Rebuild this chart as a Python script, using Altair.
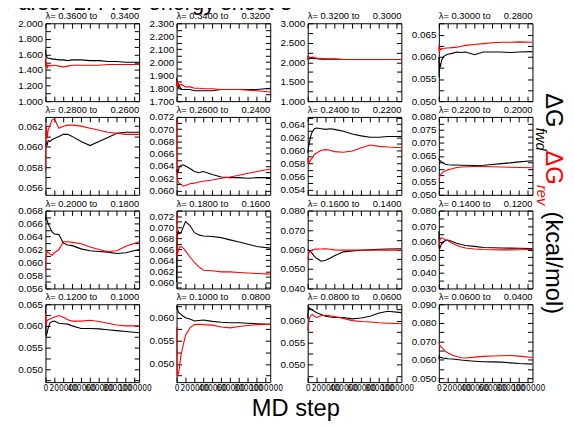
import math
import altair as alt
import pandas as pd

FONT = "Liberation Sans"
NARROW = "'Liberation Sans Narrow', 'DejaVu Sans Condensed', 'Liberation Sans', sans-serif"

# ---------------- data ----------------
steps = [0, 5000, 10000, 20000, 30000, 50000, 75000, 100000, 150000, 200000,
         250000, 300000, 400000, 500000, 600000, 700000, 800000, 900000, 1050000]

lam_from = ["0.3600", "0.3400", "0.3200", "0.3000", "0.2800", "0.2600", "0.2400", "0.2200",
            "0.2000", "0.1800", "0.1600", "0.1400", "0.1200", "0.1000", "0.0800", "0.0600"]
lam_to = ["0.3400", "0.3200", "0.3000", "0.2800", "0.2600", "0.2400", "0.2200", "0.2000",
          "0.1800", "0.1600", "0.1400", "0.1200", "0.1000", "0.0800", "0.0600", "0.0400"]

fwd_01 = [1.66, 1.60, 1.58, 1.56, 1.55, 1.55, 1.54, 1.54, 1.53, 1.53, 1.52, 1.53, 1.53, 1.52, 1.52, 1.51, 1.51, 1.50, 1.50]
rev_01 = [1.55, 1.44, 1.50, 1.42, 1.46, 1.45, 1.46, 1.46, 1.45, 1.44, 1.45, 1.46, 1.46, 1.46, 1.46, 1.47, 1.47, 1.47, 1.47]
fwd_02 = [1.88, 1.82, 1.85, 1.80, 1.82, 1.79, 1.79, 1.79, 1.79, 1.78, 1.78, 1.78, 1.78, 1.79, 1.79, 1.79, 1.79, 1.79, 1.80]
rev_02 = [1.82, 1.86, 1.80, 1.84, 1.82, 1.83, 1.82, 1.81, 1.81, 1.80, 1.80, 1.795, 1.795, 1.79, 1.79, 1.79, 1.785, 1.78, 1.77]
fwd_03 = [2.15, 2.10, 2.08, 2.10, 2.09, 2.10, 2.09, 2.09, 2.08, 2.08, 2.08, 2.08, 2.07, 2.07, 2.07, 2.07, 2.07, 2.07, 2.07]
rev_03 = [2.05, 2.12, 2.10, 2.13, 2.12, 2.13, 2.12, 2.11, 2.10, 2.09, 2.08, 2.08, 2.07, 2.07, 2.07, 2.07, 2.07, 2.07, 2.07]
fwd_04 = [0.0600, 0.0553, 0.0585, 0.0580, 0.0592, 0.0600, 0.0604, 0.0606, 0.0608, 0.0611, 0.0610, 0.0611, 0.0605, 0.0611, 0.0611, 0.0611, 0.0610, 0.0611, 0.0612]
rev_04 = [0.0625, 0.0610, 0.0620, 0.0616, 0.0619, 0.0618, 0.0620, 0.0620, 0.0621, 0.0622, 0.0624, 0.0626, 0.0628, 0.0630, 0.0632, 0.0633, 0.0633, 0.0634, 0.0633]
fwd_05 = [0.0603, 0.0600, 0.0604, 0.0602, 0.0606, 0.0605, 0.0607, 0.0608, 0.0610, 0.0612, 0.0612, 0.0610, 0.0605, 0.0601, 0.0605, 0.0609, 0.0613, 0.0614, 0.0614]
rev_05 = [0.0576, 0.0612, 0.0620, 0.0608, 0.0616, 0.0621, 0.0626, 0.0627, 0.0618, 0.0620, 0.0621, 0.0621, 0.0620, 0.0618, 0.0616, 0.0614, 0.0613, 0.0612, 0.0612]
fwd_06 = [0.0630, 0.0635, 0.0628, 0.0633, 0.0638, 0.0641, 0.0642, 0.0640, 0.0636, 0.0631, 0.0629, 0.0631, 0.0626, 0.0622, 0.0621, 0.0621, 0.0620, 0.0621, 0.0621]
rev_06 = [0.0715, 0.0625, 0.0618, 0.0613, 0.0612, 0.0610, 0.0607, 0.0608, 0.0611, 0.0612, 0.0614, 0.0615, 0.0617, 0.0620, 0.0622, 0.0625, 0.0628, 0.0631, 0.0635]
fwd_07 = [0.0596, 0.0600, 0.0605, 0.0612, 0.0620, 0.0628, 0.0633, 0.0634, 0.0633, 0.0632, 0.0633, 0.0632, 0.0629, 0.0625, 0.0622, 0.0620, 0.0620, 0.0621, 0.0621]
rev_07 = [0.0589, 0.0580, 0.0584, 0.0582, 0.0585, 0.0588, 0.0594, 0.0596, 0.0600, 0.0601, 0.0600, 0.0598, 0.0597, 0.0599, 0.0604, 0.0608, 0.0606, 0.0605, 0.0604]
fwd_08 = [0.0640, 0.0635, 0.0632, 0.0630, 0.0627, 0.0622, 0.0618, 0.0616, 0.0615, 0.0615, 0.0614, 0.0614, 0.0613, 0.0614, 0.0617, 0.0620, 0.0623, 0.0627, 0.0631]
rev_08 = [0.0565, 0.0560, 0.0572, 0.0578, 0.0582, 0.0588, 0.0593, 0.0596, 0.0600, 0.0605, 0.0607, 0.0608, 0.0609, 0.0609, 0.0608, 0.0607, 0.0606, 0.0605, 0.0604]
fwd_09 = [0.0665, 0.0672, 0.0668, 0.0664, 0.0660, 0.0654, 0.0647, 0.0644, 0.0643, 0.0630, 0.0627, 0.0626, 0.0621, 0.0618, 0.0617, 0.0616, 0.0614, 0.0615, 0.0620]
rev_09 = [0.0588, 0.0605, 0.0611, 0.0618, 0.0616, 0.0613, 0.0611, 0.0615, 0.0620, 0.0632, 0.0632, 0.0631, 0.0629, 0.0624, 0.0620, 0.0617, 0.0618, 0.0625, 0.0632]
fwd_10 = [0.0600, 0.0690, 0.0685, 0.0692, 0.0688, 0.0690, 0.0700, 0.0710, 0.0703, 0.0690, 0.0686, 0.0684, 0.0683, 0.0681, 0.0677, 0.0673, 0.0669, 0.0665, 0.0662]
rev_10 = [0.0725, 0.0645, 0.0650, 0.0658, 0.0664, 0.0665, 0.0662, 0.0657, 0.0646, 0.0636, 0.0628, 0.0622, 0.0621, 0.0619, 0.0619, 0.0618, 0.0617, 0.0616, 0.0615]
fwd_11 = [0.0601, 0.0600, 0.0598, 0.0594, 0.0590, 0.0580, 0.0565, 0.0555, 0.0540, 0.0545, 0.0555, 0.0568, 0.0588, 0.0593, 0.0596, 0.0598, 0.0601, 0.0603, 0.0604]
rev_11 = [0.0550, 0.0562, 0.0575, 0.0590, 0.0595, 0.0598, 0.0601, 0.0602, 0.0603, 0.0604, 0.0601, 0.0598, 0.0597, 0.0597, 0.0597, 0.0597, 0.0597, 0.0597, 0.0597]
fwd_12 = [0.0668, 0.0560, 0.0555, 0.0570, 0.0585, 0.0600, 0.0608, 0.0611, 0.0601, 0.0590, 0.0582, 0.0576, 0.0570, 0.0563, 0.0561, 0.0560, 0.0559, 0.0558, 0.0557]
rev_12 = [0.0572, 0.0590, 0.0608, 0.0622, 0.0626, 0.0620, 0.0613, 0.0608, 0.0590, 0.0578, 0.0566, 0.0560, 0.0553, 0.0550, 0.0549, 0.0548, 0.0548, 0.0549, 0.0550]
fwd_13 = [0.0636, 0.0582, 0.0578, 0.0585, 0.0595, 0.0607, 0.0610, 0.0611, 0.0606, 0.0605, 0.0604, 0.0600, 0.0594, 0.0594, 0.0593, 0.0591, 0.0589, 0.0587, 0.0584]
rev_13 = [0.0629, 0.0600, 0.0608, 0.0612, 0.0614, 0.0616, 0.0618, 0.0620, 0.0624, 0.0620, 0.0614, 0.0611, 0.0611, 0.0613, 0.0610, 0.0606, 0.0602, 0.0600, 0.0600]
fwd_14 = [0.0625, 0.0622, 0.0620, 0.0612, 0.0610, 0.0607, 0.0603, 0.0600, 0.0597, 0.0593, 0.0594, 0.0595, 0.0592, 0.0590, 0.0589, 0.0589, 0.0588, 0.0587, 0.0586]
rev_14 = [0.0580, 0.0480, 0.0474, 0.0480, 0.0490, 0.0520, 0.0542, 0.0562, 0.0578, 0.0585, 0.0586, 0.0585, 0.0584, 0.0580, 0.0578, 0.0581, 0.0583, 0.0585, 0.0586]
fwd_15 = [0.0605, 0.0622, 0.0626, 0.0629, 0.0627, 0.0624, 0.0621, 0.0618, 0.0614, 0.0610, 0.0608, 0.0607, 0.0607, 0.0604, 0.0606, 0.0610, 0.0617, 0.0621, 0.0618]
rev_15 = [0.0578, 0.0590, 0.0598, 0.0605, 0.0610, 0.0614, 0.0610, 0.0607, 0.0611, 0.0612, 0.0611, 0.0609, 0.0605, 0.0600, 0.0598, 0.0597, 0.0595, 0.0594, 0.0593]
fwd_16 = [0.0605, 0.0621, 0.0615, 0.0614, 0.0612, 0.0610, 0.0608, 0.0606, 0.0605, 0.0602, 0.0599, 0.0597, 0.0593, 0.0590, 0.0589, 0.0588, 0.0584, 0.0580, 0.0577]
rev_16 = [0.0695, 0.0685, 0.0680, 0.0673, 0.0668, 0.0658, 0.0645, 0.0638, 0.0625, 0.0618, 0.0611, 0.0610, 0.0615, 0.0619, 0.0621, 0.0622, 0.0624, 0.0620, 0.0613]

fwd_all = [fwd_01, fwd_02, fwd_03, fwd_04, fwd_05, fwd_06, fwd_07, fwd_08,
           fwd_09, fwd_10, fwd_11, fwd_12, fwd_13, fwd_14, fwd_15, fwd_16]
rev_all = [rev_01, rev_02, rev_03, rev_04, rev_05, rev_06, rev_07, rev_08,
           rev_09, rev_10, rev_11, rev_12, rev_13, rev_14, rev_15, rev_16]

y_domain = [[1.0, 2.0], [1.7, 2.3], [1.0, 3.0], [0.050, 0.0676],
            [0.0553, 0.0629], [0.0593, 0.072], [0.0532, 0.0651], [0.050, 0.080],
            [0.056, 0.068], [0.0589, 0.073], [0.040, 0.080], [0.030, 0.080],
            [0.047, 0.065], [0.0461, 0.0629], [0.0461, 0.0637], [0.048, 0.090]]
y_minor = [0.1, 0.05, 0.25, 0.0025, 0.001, 0.001, 0.001, 0.0025,
           0.001, 0.001, 0.005, 0.005, 0.0025, 0.0025, 0.0025, 0.005]
y_major = [0.2, 0.1, 0.5, 0.005, 0.002, 0.002, 0.002, 0.005,
           0.002, 0.002, 0.01, 0.01, 0.005, 0.005, 0.005, 0.01]

x_max = 1050000
x_minor = 100000
x_major = 200000

title_text = "Parser 2: Free energy sheet 3"
x_title = "MD step"

W, H = 95, 79


def tick_list(lo, hi, step):
    a = math.ceil(lo / step - 1e-6)
    b = math.floor(hi / step + 1e-6)
    return [round(k * step, 7) for k in range(a, b + 1)]


def panel(i):
    df = pd.DataFrame({"step": steps, "fwd": fwd_all[i], "rev": rev_all[i]})
    lo, hi = y_domain[i]
    yt = tick_list(lo, hi, y_minor[i])
    xt = tick_list(0, x_max, x_minor)
    mj = y_major[i]
    ylab = f"abs(datum.value/{mj} - round(datum.value/{mj})) < 0.001 ? format(datum.value, '.3f') : ''"
    xlab = f"abs(datum.value/{x_major} - round(datum.value/{x_major})) < 0.001 ? format(datum.value, 'd') : ''"
    common = dict(domain=False, grid=False, tickColor="black", tickSize=5, offset=-5,
                  tickWidth=1, labelColor="black", title=None)
    xs = alt.Scale(domain=[0, x_max], nice=False, zero=False)
    ys = alt.Scale(domain=[lo, hi], nice=False, zero=False)
    ax_b = alt.Axis(orient="bottom", values=xt, labels=(i >= 12), labelExpr=xlab,
                    labelOverlap=False, labelFlush=False, labelPadding=2,
                    labelFont=NARROW, labelFontSize=8.5, **common)
    ax_t = alt.Axis(orient="top", values=xt, labels=False, **common)
    ax_l = alt.Axis(orient="left", values=yt, labelExpr=ylab, labelOverlap=False,
                    labelFlush=False, labelPadding=3, labelFont=FONT, labelFontSize=10, **common)
    ax_r = alt.Axis(orient="right", values=yt, labels=False, **common)

    black = alt.Chart(df).mark_line(color="black", strokeWidth=1.1).encode(
        x=alt.X("step:Q", scale=xs, axis=ax_b),
        y=alt.Y("fwd:Q", scale=ys, axis=ax_l),
    )
    red = alt.Chart(df).mark_line(color="#ff0000", strokeWidth=1.1).encode(
        x=alt.X("step:Q", scale=xs, axis=ax_t),
        y=alt.Y("rev:Q", scale=ys, axis=ax_r),
    )
    one = pd.DataFrame({"k": [0]})
    t_left = alt.Chart(one).mark_text(align="left", baseline="alphabetic", fontSize=9.5,
                                      font=FONT, color="black").encode(
        x=alt.value(0), y=alt.value(-4), text=alt.value(f"\u03bb= {lam_from[i]} to"))
    t_right = alt.Chart(one).mark_text(align="right", baseline="alphabetic", fontSize=9.5,
                                       font=FONT, color="black").encode(
        x=alt.value(W), y=alt.value(-4), text=alt.value(lam_to[i]))
    layers = [black, red, t_left, t_right]

    if i == 0:
        layers.append(alt.Chart(one).mark_text(align="left", baseline="alphabetic", fontSize=22,
                                               font=FONT, color="black").encode(
            x=alt.value(-42), y=alt.value(-13.5), text=alt.value(title_text)))
    if i == 7:
        pieces = [("\u0394G", 24, "normal", "black", 109, -24),
                  ("fwd", 15, "italic", "black", 99, 11),
                  ("\u0394G", 24, "normal", "#ff0000", 109, 34),
                  ("rev", 15, "italic", "#ff0000", 100, 69),
                  ("(kcal/mol)", 24, "normal", "black", 109, 96)]
        for txt, fs, st, col, px, py in pieces:
            layers.append(alt.Chart(one).mark_text(align="left", baseline="alphabetic", angle=90,
                                                   fontSize=fs, fontStyle=st, font=FONT,
                                                   color=col).encode(
                x=alt.value(px), y=alt.value(py), text=alt.value(txt)))
    if i == 13:
        layers.append(alt.Chart(one).mark_text(align="center", baseline="alphabetic", fontSize=24,
                                               font=FONT, color="black").encode(
            x=alt.value(121), y=alt.value(113), text=alt.value(x_title)))

    return alt.layer(*layers).resolve_axis(x="independent", y="independent").properties(
        width=W, height=H)


chart = alt.concat(*[panel(i) for i in range(16)], columns=4,
                   spacing={"row": 16, "column": 38}, bounds="flush").configure_view(
    stroke="black", strokeWidth=1).properties(
    padding={"left": -5, "top": -19.5, "right": 0, "bottom": 0}, background="white")

chart.save("out.html", embed_options={"renderer": "svg", "actions": False})
